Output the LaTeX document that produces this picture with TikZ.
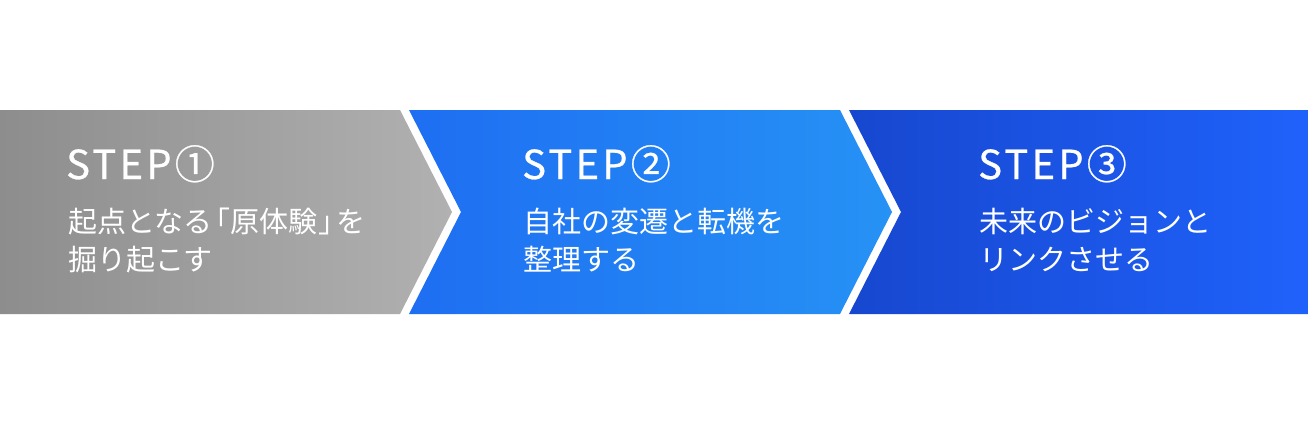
\documentclass[tikz,border=0pt]{standalone}
\usepackage{fontspec}
\setmainfont{Noto Sans CJK JP}
\newfontfamily\stepfont[LetterSpace=8,FakeBold=0.6]{Noto Sans CJK JP}
\newfontfamily\jpfont{Noto Sans CJK JP}
\newcommand{\hwbr}[1]{{\addfontfeature{RawFeature=+palt}#1}}
\definecolor{grayL}{HTML}{8D8D8D}
\definecolor{grayR}{HTML}{B1B1B1}
\definecolor{blueAL}{HTML}{1E6EF2}
\definecolor{blueAR}{HTML}{2692F5}
\definecolor{blueBL}{HTML}{1747CF}
\definecolor{blueBR}{HTML}{1F62FB}
\tikzset{
  steptitle/.style={anchor=base west, inner sep=0pt, text=white, font=\stepfont\fontsize{40}{40}\selectfont},
  steptext/.style={anchor=base west, inner sep=0pt, text=white, font=\jpfont\fontsize{29}{29}\selectfont},
}
\begin{document}
\begin{tikzpicture}[x=1pt,y=-1pt]
\useasboundingbox (0,0) rectangle (1308,426);
\fill[white] (0,0) rectangle (1308,426);
% panels
\shade[left color=grayL, right color=grayR] (0,110) -- (400,110) -- (452,212) -- (400,314) -- (0,314) -- cycle;
\shade[left color=blueAL, right color=blueAR] (409,110) -- (840,110) -- (892,212) -- (840,314) -- (409,314) -- (461,212) -- cycle;
\shade[left color=blueBL, right color=blueBR] (849,110) -- (1308,110) -- (1308,314) -- (849,314) -- (901,212) -- cycle;
% texts
\node[steptitle] (s1) at (66,179) {STEP①};
\node[steptext] (a1) at (68,232) {起点となる\kern3pt\hwbr{「}\kern1pt原体験\kern1pt\hwbr{」}\kern3pt を};
\node[steptext] (b1) at (68,270) {掘り起こす};
\node[steptitle] (s2) at (522,179) {STEP②};
\node[steptext] (a2) at (523,232) {自社の変遷と転機を};
\node[steptext] (b2) at (523,270) {整理する};
\node[steptitle] (s3) at (978,179) {STEP③};
\node[steptext] (a3) at (979,232) {未来のビジョンと};
\node[steptext] (b3) at (979,270) {リンクさせる};
\end{tikzpicture}
\end{document}
